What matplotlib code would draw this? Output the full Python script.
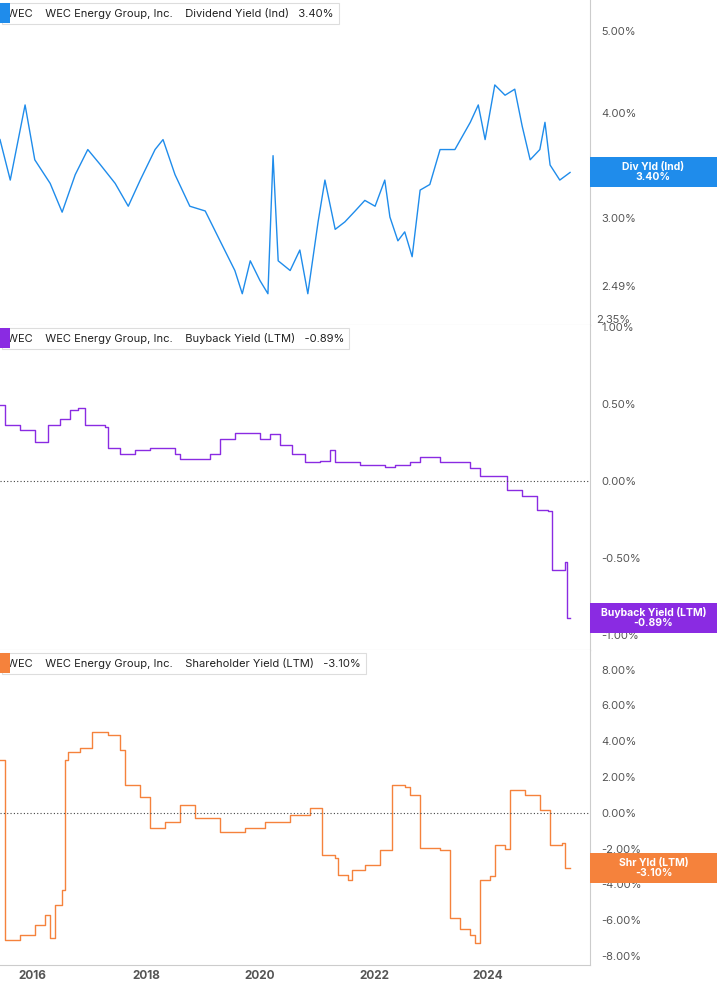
import matplotlib
matplotlib.use("Agg")
import matplotlib.pyplot as plt
import matplotlib.ticker as mt

plt.rcParams["font.family"] = "Inter"

div_t = [2015.44,2015.62,2015.88,2016.05,2016.32,2016.53,2016.76,2016.98,2017.19,2017.46,2017.69,2017.90,2018.16,2018.30,2018.51,2018.77,2019.04,2019.30,2019.56,2019.69,2019.83,2020.00,2020.14,2020.23,2020.32,2020.53,2020.70,2020.84,2021.02,2021.14,2021.32,2021.49,2021.67,2021.84,2022.02,2022.19,2022.28,2022.42,2022.54,2022.67,2022.81,2022.98,2023.16,2023.42,2023.69,2023.83,2023.95,2024.12,2024.30,2024.47,2024.60,2024.74,2024.91,2025.00,2025.09,2025.26,2025.44]
div_v = [3.72,3.33,4.09,3.52,3.30,3.05,3.38,3.62,3.48,3.30,3.10,3.33,3.62,3.72,3.38,3.10,3.06,2.82,2.60,2.44,2.67,2.53,2.44,3.56,2.67,2.60,2.75,2.44,2.97,3.33,2.91,2.97,3.06,3.15,3.10,3.33,3.01,2.82,2.89,2.70,3.24,3.29,3.62,3.62,3.90,4.09,3.72,4.32,4.20,4.27,3.86,3.52,3.62,3.90,3.47,3.33,3.40]

bb_t = [2015.44,2015.53,2015.79,2016.05,2016.28,2016.49,2016.67,2016.81,2016.93,2017.28,2017.33,2017.55,2017.81,2018.07,2018.51,2018.60,2019.12,2019.30,2019.56,2020.00,2020.18,2020.35,2020.56,2020.79,2021.05,2021.23,2021.32,2021.67,2021.76,2022.19,2022.37,2022.63,2022.81,2023.16,2023.42,2023.69,2023.86,2024.21,2024.33,2024.60,2024.86,2025.05,2025.12,2025.35,2025.39,2025.44]
bb_v = [0.49,0.36,0.33,0.25,0.36,0.40,0.46,0.47,0.36,0.35,0.21,0.17,0.20,0.21,0.17,0.14,0.17,0.27,0.31,0.27,0.30,0.23,0.17,0.12,0.13,0.20,0.12,0.12,0.10,0.09,0.10,0.12,0.15,0.12,0.12,0.08,0.03,0.03,-0.06,-0.10,-0.19,-0.20,-0.58,-0.53,-0.89,-0.89]

sh_t = [2015.44,2015.53,2015.79,2016.05,2016.23,2016.32,2016.40,2016.53,2016.58,2016.63,2016.84,2017.05,2017.33,2017.55,2017.63,2017.90,2018.07,2018.33,2018.60,2018.86,2019.30,2019.74,2020.09,2020.53,2020.88,2021.09,2021.32,2021.37,2021.54,2021.61,2021.84,2022.11,2022.32,2022.54,2022.63,2022.81,2023.16,2023.33,2023.51,2023.69,2023.77,2023.86,2024.04,2024.12,2024.30,2024.39,2024.65,2024.91,2025.09,2025.30,2025.35,2025.44]
sh_v = [2.96,-7.10,-6.80,-6.26,-5.70,-7.00,-5.14,-4.30,2.96,3.40,3.60,4.50,4.36,3.50,1.56,0.90,-0.84,-0.50,0.45,-0.28,-1.06,-0.84,-0.50,-0.10,0.28,-2.35,-2.50,-3.46,-3.74,-3.20,-2.90,-2.06,1.56,1.45,1.00,-1.96,-2.10,-5.87,-6.50,-6.80,-7.26,-3.74,-3.50,-1.79,-2.00,1.28,1.00,0.17,-1.79,-1.68,-3.07,-3.10]

titles = ["Dividend Yield (Ind)   3.40%", "Buyback Yield (LTM)   -0.89%", "Shareholder Yield (LTM)   -3.10%"]
colors = ["#1f8ceb", "#8a2be2", "#f5823c"]
tags = ["Div Yld (Ind)\n3.40%", "Buyback Yield (LTM)\n-0.89%", "Shr Yld (LTM)\n-3.10%"]

fig = plt.figure(figsize=(7.17, 10.05), dpi=100)
W = 590/717
a1 = fig.add_axes([0, 1-325/1005, W, 325/1005])
a2 = fig.add_axes([0, 1-650/1005, W, 325/1005])
a3 = fig.add_axes([0, 1-965/1005, W, 315/1005])
axes = [a1, a2, a3]

a1.plot(div_t, div_v, color=colors[0], lw=1)
a1.set_yscale("log")
a1.set_ylim(2.24, 5.45)
a1.yaxis.set_major_locator(mt.FixedLocator([2.49, 3, 4, 5]))
a1.yaxis.set_minor_locator(mt.NullLocator())
a1.yaxis.set_major_formatter(mt.FuncFormatter(lambda v, p: f"{v:.2f}%"))

a2.plot(bb_t, bb_v, color=colors[1], lw=1, drawstyle="steps-post")
a2.set_ylim(-1.10, 1.01)
a2.set_yticks([-1.0, -0.5, 0, 0.5, 1.0])
a2.yaxis.set_major_formatter(mt.FuncFormatter(lambda v, p: f"{v:.2f}%"))

a3.plot(sh_t, sh_v, color=colors[2], lw=1, drawstyle="steps-post")
a3.set_ylim(-8.5, 9.1)
a3.set_yticks(range(-8, 9, 2))
a3.yaxis.set_major_formatter(mt.FuncFormatter(lambda v, p: f"{v:.2f}%"))

for a in (a2, a3):
    a.axhline(0, color="#444", lw=0.8, ls=(0, (1, 2)))

for i, a in enumerate(axes):
    a.set_xlim(2015.44, 2025.79)
    a.yaxis.tick_right()
    a.tick_params(axis="y", length=0, labelsize=8, colors="#555", pad=8)
    for s in ["left", "top"]:
        a.spines[s].set_visible(False)
    a.spines["right"].set_color("#ccc")
    a.spines["bottom"].set_color("#ccc")
    a.set_xticks([2016, 2018, 2020, 2022, 2024])
    if i < 2:
        a.tick_params(axis="x", length=0, labelbottom=False)
    else:
        a.tick_params(axis="x", length=0, labelsize=8.5, colors="#555")
        a.xaxis.set_major_formatter(mt.FuncFormatter(lambda v, p: f"{int(v)}"))
        for lab in a.get_xticklabels():
            lab.set_fontweight("bold")
    a.text(0.012, 0.975 if i < 2 else 0.975, "WEC    WEC Energy Group, Inc.    " + titles[i],
           transform=a.transAxes, va="top", ha="left", fontsize=8, color="#222",
           bbox=dict(boxstyle="square,pad=0.45", fc="white", ec="#ddd", lw=0.8))
    a.text(0.004, 0.975, " ", transform=a.transAxes, va="top", fontsize=8,
           bbox=dict(boxstyle="square,pad=0.45", fc=colors[i], ec=colors[i], lw=0))

a1.text(1.01, 0.0, "2.35%", transform=a1.transAxes, fontsize=8, color="#555", va="bottom")
# value tags
for a, t, c, v in [(a1, tags[0], colors[0], 3.40), (a2, tags[1], colors[1], -0.89), (a3, tags[2], colors[2], -3.10)]:
    a.annotate(t, xy=(1.0, v), xycoords=("axes fraction", "data"), xytext=(0.09 * 717 / 590 + 1.0 - 0.09 * 717 / 590, v),
               textcoords=("axes fraction", "data"), ha="center", va="center", fontsize=7.5,
               color="white", fontweight="bold", annotation_clip=False)
    bb = a.get_position()
    ty = a.transData.transform((0, v))[1] / fig.bbox.height
    fig.patches.append(matplotlib.patches.Rectangle((W, ty - 15/1005), 1 - W, 30/1005, transform=fig.transFigure,
                                                     fc=c, ec="none", zorder=5))
    fig.text(W + (1 - W) / 2, ty, t, ha="center", va="center", fontsize=7.5, color="white",
             fontweight="bold", zorder=6, linespacing=1.0)
    a.texts[-1].set_visible(False)

fig.savefig("out.png", dpi=100)
